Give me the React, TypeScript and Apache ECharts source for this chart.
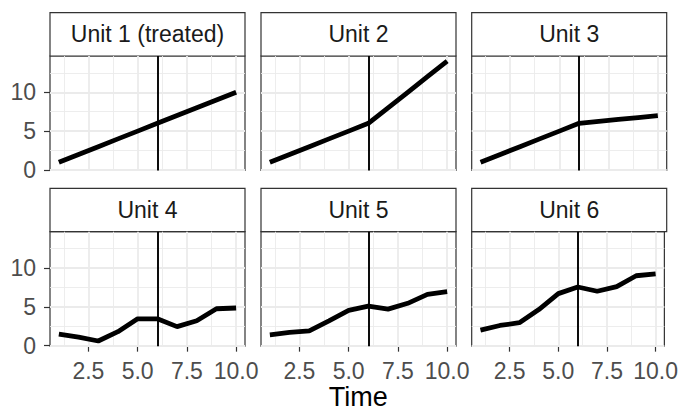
import React, { useEffect, useRef } from "react";
import * as echarts from "echarts";

const times = [1, 2, 3, 4, 5, 6, 7, 8, 9, 10];
const unitNames = ["Unit 1 (treated)", "Unit 2", "Unit 3", "Unit 4", "Unit 5", "Unit 6"];
const unit1 = [1, 2, 3, 4, 5, 6, 7, 8, 9, 10];
const unit2 = [1, 2, 3, 4, 5, 6, 8, 10, 12, 14];
const unit3 = [1, 2, 3, 4, 5, 6, 6.25, 6.5, 6.75, 7];
const unit4 = [1.5, 1.1, 0.6, 1.8, 3.45, 3.45, 2.45, 3.2, 4.75, 4.85];
const unit5 = [1.4, 1.7, 1.9, 3.2, 4.55, 5.1, 4.7, 5.45, 6.6, 6.95];
const unit6 = [2.0, 2.6, 2.95, 4.65, 6.7, 7.55, 7.0, 7.6, 9.0, 9.25];
const treatmentTime = 6;
const xTicks = [2.5, 5, 7.5, 10];
const xMinor = [1.25, 3.75, 6.25, 8.75];
const yTicks = [0, 5, 10];
const yMinor = [2.5, 7.5, 12.5];
const xTitle = "Time";

const units = [unit1, unit2, unit3, unit4, unit5, unit6];

const FONT = "'Liberation Sans', Arial, Helvetica, sans-serif";
const COL_LEFT = [50, 261, 471.7];
const PANEL_W = 195;
const ROW_TOP = [56, 231.7];
const PANEL_H = 114.5;
const STRIP_H = 43.4;

export default function App() {
  const ref = useRef<HTMLDivElement>(null);
  useEffect(() => {
    document.body.style.margin = "0";
    if (!ref.current) return;
    const chart = echarts.init(ref.current, null, { renderer: "svg" });

    const allVals = units.flat();
    const yMinData = Math.min(...allVals);
    const yMaxData = Math.max(...allVals);
    const yr = yMaxData - yMinData;
    const yMin = yMinData - 0.05 * yr;
    const yMax = yMaxData + 0.05 * yr;
    const xr = times[times.length - 1] - times[0];
    const xMin = times[0] - 0.05 * xr;
    const xMax = times[times.length - 1] + 0.05 * xr;

    const grids: any[] = [];
    const xAxes: any[] = [];
    const yAxes: any[] = [];
    const series: any[] = [];
    const graphics: any[] = [];

    units.forEach((vals, i) => {
      const row = Math.floor(i / 3);
      const col = i % 3;
      const left = COL_LEFT[col];
      const top = ROW_TOP[row];
      grids.push({
        left,
        top,
        width: PANEL_W,
        height: PANEL_H,
        show: true,
        borderColor: "#333333",
        borderWidth: 1.2,
        backgroundColor: "#ffffff",
      });
      const bottomRow = row === 1;
      const leftCol = col === 0;
      xAxes.push({
        type: "value",
        gridIndex: i,
        min: xMin,
        max: xMax,
        axisLine: { show: false },
        splitLine: { show: false },
        axisTick: {
          show: bottomRow,
          customValues: xTicks,
          length: 6,
          lineStyle: { color: "#333333", width: 1.2 },
        },
        axisLabel: {
          show: bottomRow,
          customValues: xTicks,
          formatter: (v: number) => v.toFixed(1),
          fontSize: 23,
          fontFamily: FONT,
          color: "#4D4D4D",
          margin: 13,
        },
      });
      yAxes.push({
        type: "value",
        gridIndex: i,
        min: yMin,
        max: yMax,
        axisLine: { show: false },
        splitLine: { show: false },
        axisTick: {
          show: leftCol,
          customValues: yTicks,
          length: 6,
          lineStyle: { color: "#333333", width: 1.2 },
        },
        axisLabel: {
          show: leftCol,
          customValues: yTicks,
          fontSize: 23,
          fontFamily: FONT,
          color: "#4D4D4D",
          margin: 14,
        },
      });
      const gridLineData: any[] = [];
      xMinor.forEach((v) => gridLineData.push({ xAxis: v, lineStyle: { width: 0.9 } }));
      yMinor.forEach((v) => gridLineData.push({ yAxis: v, lineStyle: { width: 0.9 } }));
      xTicks.forEach((v) => gridLineData.push({ xAxis: v, lineStyle: { width: 1.8 } }));
      yTicks.forEach((v) => gridLineData.push({ yAxis: v, lineStyle: { width: 1.8 } }));
      const data = times.map((t, k) => [t, vals[k]]);
      series.push({
        type: "scatter",
        xAxisIndex: i,
        yAxisIndex: i,
        data,
        symbolSize: 0,
        itemStyle: { opacity: 0 },
        z: 1,
        silent: true,
        markLine: {
          z: 1,
          silent: true,
          symbol: "none",
          label: { show: false },
          lineStyle: { color: "#EBEBEB", type: "solid" },
          data: gridLineData,
        },
      });
      series.push({
        type: "line",
        xAxisIndex: i,
        yAxisIndex: i,
        data,
        symbol: "none",
        z: 3,
        lineStyle: { color: "#000000", width: 4.8 },
        markLine: {
          z: 4,
          silent: true,
          symbol: "none",
          label: { show: false },
          lineStyle: { color: "#000000", width: 1.9, type: "solid" },
          data: [{ xAxis: treatmentTime }],
        },
      });
      graphics.push({
        type: "rect",
        shape: { x: left, y: top - STRIP_H, width: PANEL_W, height: STRIP_H },
        style: { fill: "#ffffff", stroke: "#333333", lineWidth: 1.2 },
      });
      graphics.push({
        type: "text",
        x: left + PANEL_W / 2,
        y: top - STRIP_H / 2,
        style: {
          text: unitNames[i],
          fontSize: 23,
          fontFamily: FONT,
          fill: "#1A1A1A",
          align: "center",
          verticalAlign: "middle",
        },
      });
    });

    graphics.push({
      type: "text",
      x: (COL_LEFT[0] + COL_LEFT[2] + PANEL_W) / 2,
      y: 397,
      style: {
        text: xTitle,
        fontSize: 27,
        fontFamily: FONT,
        fill: "#000000",
        align: "center",
        verticalAlign: "middle",
      },
    });

    chart.setOption({
      animation: false,
      backgroundColor: "#ffffff",
      grid: grids,
      xAxis: xAxes,
      yAxis: yAxes,
      series,
      graphic: graphics,
    });
    return () => chart.dispose();
  }, []);
  return <div ref={ref} style={{ width: 681, height: 411 }} />;
}
